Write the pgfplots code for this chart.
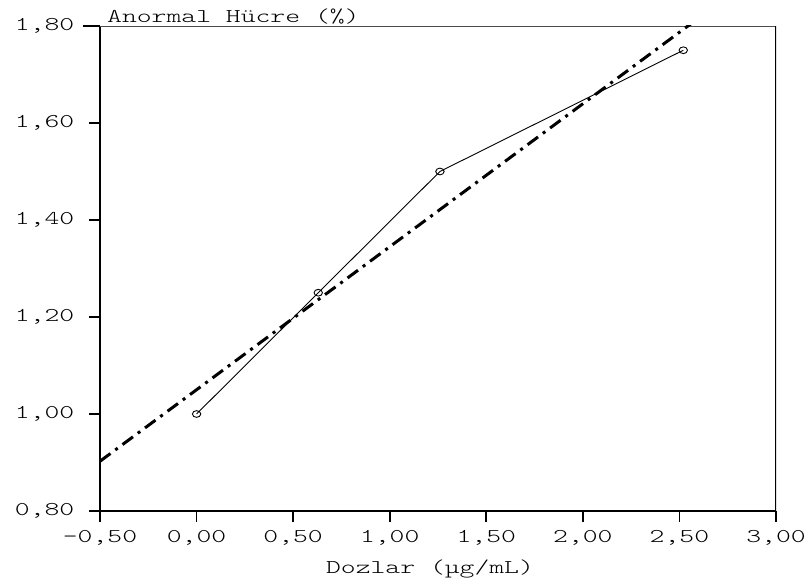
\documentclass[border=0pt]{standalone}
\usepackage{pgfplots}
\pgfplotsset{compat=1.18}
\usepackage{fontspec}
\newfontfamily\chff{lmmonolt10-regular.otf}[FakeStretch=1.45]
\newcommand\chfont{\chff\fontsize{19.5bp}{22bp}\selectfont}
\begin{document}
\chfont
\begin{tikzpicture}[x=1bp,y=1bp]
\useasboundingbox (-100,-73) rectangle (707,511);
\begin{axis}[
  at={(0,0)}, anchor=south west,
  scale only axis, width=676bp, height=485bp,
  xmin=-0.5, xmax=3.0, ymin=0.8, ymax=1.8,
  axis line style={line width=1.6bp},
  axis x line*=bottom, axis y line*=left,
  xtick={-0.5,0,0.5,1,1.5,2,2.5,3},
  xticklabels={{-0,50},{0,00},{0,50},{1,00},{1,50},{2,00},{2,50},{3,00}},
  ytick={0.8,1.0,1.2,1.4,1.6,1.8},
  yticklabels={{0,80},{1,00},{1,20},{1,40},{1,60},{1,80}},
  tick align=outside,
  major tick length=11bp,
  x tick style={line width=1.6bp, black},
  y tick style={line width=1.6bp, black, shorten <=-6bp},
  tick label style={font=\chfont},
  xticklabel style={yshift=-2bp},
  yticklabel style={xshift=-8bp},
  clip=true,
]
\draw[black!70, line width=0.8bp] (rel axis cs:0,1) -- (rel axis cs:1,1);
\draw[black, line width=1.6bp] (rel axis cs:1,0) -- (rel axis cs:1,1);
\addplot[black, line width=3bp, dash pattern=on 13bp off 6bp on 3bp off 6bp, forget plot] coordinates {(-0.5,0.9026) (2.544,1.80) (2.9,1.905)};
\addplot[black, line width=0.9bp, mark=o, mark size=4.2bp, mark options={line width=0.9bp, yscale=0.8}] coordinates {(0,1.00) (0.63,1.25) (1.26,1.50) (2.52,1.75)};
\end{axis}
\node[anchor=base west, inner sep=0pt] at (7,488) {Anormal Hücre (\%)};
\node[anchor=base, inner sep=0pt] at (330,-63) {Dozlar (µg/mL)};
\end{tikzpicture}
\end{document}
